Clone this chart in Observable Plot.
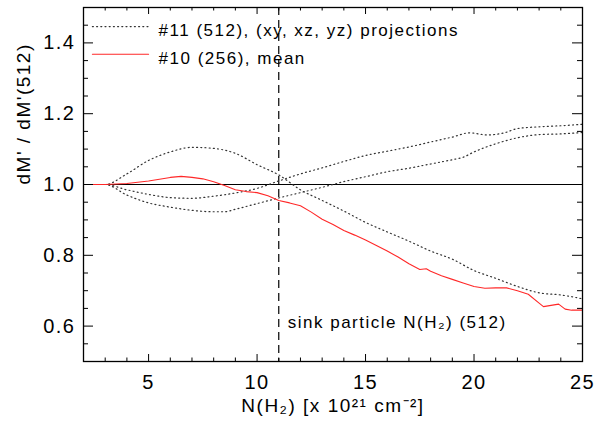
<!DOCTYPE html>
<html>
<head>
<meta charset="utf-8">
<script src="https://cdn.jsdelivr.net/npm/d3@7"></script>
<script src="https://cdn.jsdelivr.net/npm/@observablehq/plot@0.6"></script>
<style>
  html, body { margin: 0; padding: 0; background: white; }
</style>
</head>
<body>
<div id="chart"></div>
<script>
// ---- data ----
const projX = [2, 3, 4, 5, 6, 7, 8, 9, 10, 11, 12, 13, 14, 15, 16, 17, 18, 19, 20, 21, 22, 23, 24, 25];
const projA = [1.0, 1.0, 1.03, 1.068, 1.092, 1.105, 1.102, 1.088, 1.056, 1.027, 0.985, 0.955, 0.925, 0.893, 0.866, 0.84, 0.812, 0.789, 0.757, 0.735, 0.712, 0.694, 0.688, 0.677];

const projBX = [2, 3, 4, 5, 6, 7, 8, 9, 10, 11, 12, 13, 14, 15, 16, 17, 18, 19, 19.8, 20.6, 21.4, 22, 23, 24, 25];
const projB  = [1.0, 1.0, 0.985, 0.972, 0.963, 0.961, 0.967, 0.976, 0.989, 1.01, 1.03, 1.047, 1.065, 1.082, 1.094, 1.106, 1.12, 1.134, 1.146, 1.14, 1.146, 1.158, 1.163, 1.166, 1.17];

const projCX = [2, 3, 4, 5, 6, 7, 8, 8.5, 9, 10, 11, 12, 13, 14, 15, 16, 17, 18, 19, 19.5, 20, 21, 22, 23, 24, 25];
const projC  = [1.0, 1.0, 0.97, 0.948, 0.936, 0.927, 0.923, 0.923, 0.93, 0.946, 0.962, 0.977, 0.992, 1.008, 1.022, 1.036, 1.046, 1.058, 1.07, 1.077, 1.092, 1.115, 1.132, 1.141, 1.143, 1.147];

const meanX = [2, 3, 4, 5, 6, 6.5, 7, 7.5, 8, 8.5, 9, 9.5, 10, 10.5, 11, 11.5, 12, 12.5, 13, 13.5, 14, 14.5, 15, 15.5, 16, 16.5, 17, 17.5, 17.8, 18, 18.5, 19, 19.5, 20, 20.5, 21, 21.5, 22, 22.5, 23, 23.2, 23.9, 24.2, 24.5, 25];
const meanY = [1.0, 1.0, 1.003, 1.01, 1.02, 1.023, 1.02, 1.016, 1.008, 0.997, 0.985, 0.98, 0.977, 0.968, 0.955, 0.948, 0.94, 0.922, 0.902, 0.887, 0.87, 0.857, 0.843, 0.828, 0.812, 0.795, 0.776, 0.76, 0.762, 0.755, 0.742, 0.732, 0.722, 0.712, 0.707, 0.708, 0.708, 0.7, 0.69, 0.665, 0.655, 0.662, 0.648, 0.645, 0.645];

const sinkX = [11];
const refY = [1.0];

const xMajor = [5, 10, 15, 20, 25];
const xMinor = [3, 4, 6, 7, 8, 9, 11, 12, 13, 14, 16, 17, 18, 19, 21, 22, 23, 24];
const yMajor = [0.6, 0.8, 1.0, 1.2, 1.4];
const yMinor = [0.55, 0.65, 0.7, 0.75, 0.85, 0.9, 0.95, 1.05, 1.1, 1.15, 1.25, 1.3, 1.35, 1.45];

const legendLabels = ["#11 (512), (xy, xz, yz) projections", "#10 (256), mean"];
const legendY = [1.446, 1.368];
const legendTextY = [1.435, 1.356];
const legendLineX = [2.41, 5.0];
const legendTextX = 5.46;

const sinkLabel = "sink particle N(H\u2082) (512)";
const xLabel = "N(H\u2082) [x 10\u00B2\u00B9 cm\u207B\u00B2]";
const yLabel = "dM' / dM'(512)";

// ---- build tables ----
const toPts = (xs, ys) => xs.map((x, i) => ({x, y: ys[i]}));
const A = toPts(projX, projA), B = toPts(projBX, projB), C = toPts(projCX, projC), M = toPts(meanX, meanY);

const red = "rgb(255,40,40)";
const dotStyle = {stroke: "#333", strokeWidth: 1.2, strokeDasharray: "1,3.2"};
const dots = {...dotStyle, curve: "monotone-x"};

const frameH = 428 - 7 - 67;   // 354
const frameW = 594 - 83 - 12;  // 499

const chart = Plot.plot({
  width: 594,
  height: 428,
  marginLeft: 83,
  marginRight: 12,
  marginTop: 7,
  marginBottom: 67,
  x: {domain: [2, 25]},
  y: {domain: [0.5, 1.5]},
  style: "font-family: 'Liberation Sans', Arial, sans-serif; letter-spacing: 1.5px; background: white; color: black;",
  marks: [
    Plot.ruleY(refY, {stroke: "black", strokeWidth: 1}),
    Plot.ruleX(sinkX, {stroke: "black", strokeWidth: 1.2, strokeDasharray: "8,5"}),
    Plot.line(A, {x: "x", y: "y", ...dots}),
    Plot.line(B, {x: "x", y: "y", ...dots}),
    Plot.line(C, {x: "x", y: "y", ...dots}),
    Plot.line(M, {x: "x", y: "y", stroke: red, strokeWidth: 1.1}),
    // ticks (inward, mirrored)
    Plot.ruleX(xMajor, {stroke: "black", insetTop: frameH - 7}),
    Plot.ruleX(xMajor, {stroke: "black", insetBottom: frameH - 7}),
    Plot.ruleX(xMinor, {stroke: "black", insetTop: frameH - 3.5}),
    Plot.ruleX(xMinor, {stroke: "black", insetBottom: frameH - 3.5}),
    Plot.ruleY(yMajor, {stroke: "black", insetRight: frameW - 10}),
    Plot.ruleY(yMajor, {stroke: "black", insetLeft: frameW - 10}),
    Plot.ruleY(yMinor, {stroke: "black", insetRight: frameW - 5}),
    Plot.ruleY(yMinor, {stroke: "black", insetLeft: frameW - 5}),
    Plot.frame({stroke: "black", strokeWidth: 1.3}),
    Plot.axisX({ticks: xMajor, tickSize: 0, tickPadding: 13, fontSize: 20, label: null}),
    Plot.axisY({ticks: yMajor, tickFormat: d3.format(".1f"), tickSize: 0, tickPadding: 8, fontSize: 20, label: null}),
    // axis titles
    Plot.text([xLabel], {text: d => d, frameAnchor: "bottom", dy: 50, fontSize: 19, fill: "black", style: "letter-spacing: 2px"}),
    Plot.text([yLabel], {text: d => d, frameAnchor: "left", dx: -60, rotate: -90, fontSize: 19, fill: "black"}),
    // annotation
    Plot.text([sinkLabel], {text: d => d, x: sinkX[0], y: 0.61, dx: 9, textAnchor: "start", fontSize: 17, fill: "black"}),
    // legend
    Plot.line(legendLineX.map(x => ({x, y: legendY[0]})), {x: "x", y: "y", ...dotStyle}),
    Plot.line(legendLineX.map(x => ({x, y: legendY[1]})), {x: "x", y: "y", stroke: red, strokeWidth: 1.1}),
    Plot.text(legendLabels, {text: d => d, x: legendTextX, y: (d, i) => legendTextY[i], textAnchor: "start", fontSize: 17, fill: "black"})
  ]
});
document.getElementById("chart").appendChild(chart);
</script>
</body>
</html>
